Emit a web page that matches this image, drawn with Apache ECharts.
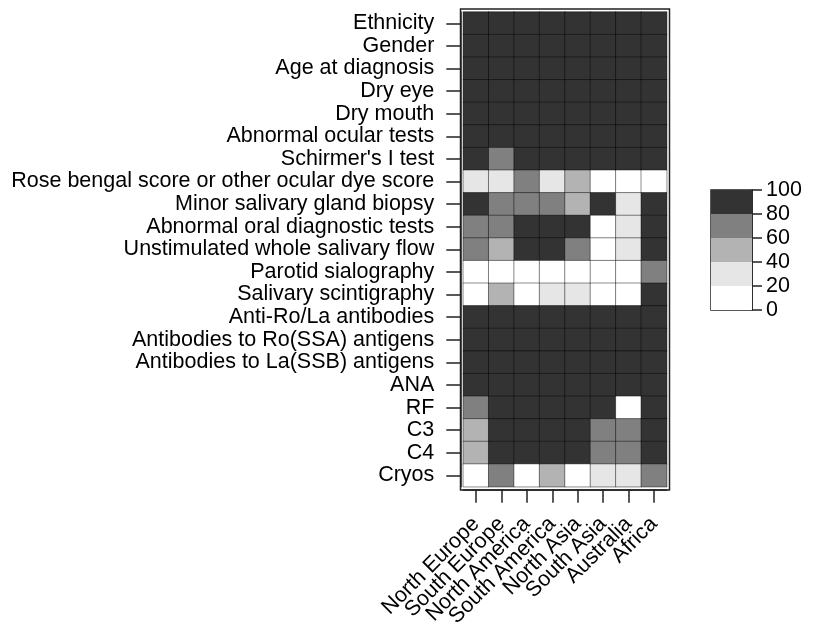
<!DOCTYPE html>
<html>
<head>
<meta charset="utf-8">
<script src="https://cdn.jsdelivr.net/npm/echarts@6/dist/echarts.min.js"></script>
<style>
  html, body { margin: 0; padding: 0; background: #fff; }
  #main { width: 814px; height: 624px; }
</style>
</head>
<body>
<div id="main"></div>
<script>
const regions = ['North Europe', 'South Europe', 'North America', 'South America',
    'North Asia', 'South Asia', 'Australia', 'Africa'];
const variables = ['Ethnicity', 'Gender', 'Age at diagnosis', 'Dry eye', 'Dry mouth',
    'Abnormal ocular tests', "Schirmer's I test", 'Rose bengal score or other ocular dye score',
    'Minor salivary gland biopsy', 'Abnormal oral diagnostic tests', 'Unstimulated whole salivary flow',
    'Parotid sialography', 'Salivary scintigraphy', 'Anti-Ro/La antibodies',
    'Antibodies to Ro(SSA) antigens', 'Antibodies to La(SSB) antigens', 'ANA', 'RF', 'C3', 'C4', 'Cryos'];

// percentage per variable (same order as variables), one array per region
const northEurope  = [90, 90, 90, 90, 90, 90, 90, 30, 90, 70, 70, 10, 10, 90, 90, 90, 90, 70, 50, 50, 10];
const southEurope  = [90, 90, 90, 90, 90, 90, 70, 30, 70, 70, 50, 10, 50, 90, 90, 90, 90, 90, 90, 90, 70];
const northAmerica = [90, 90, 90, 90, 90, 90, 90, 70, 70, 90, 90, 10, 10, 90, 90, 90, 90, 90, 90, 90, 10];
const southAmerica = [90, 90, 90, 90, 90, 90, 90, 30, 70, 90, 90, 10, 30, 90, 90, 90, 90, 90, 90, 90, 50];
const northAsia    = [90, 90, 90, 90, 90, 90, 90, 50, 50, 90, 70, 10, 30, 90, 90, 90, 90, 90, 90, 90, 10];
const southAsia    = [90, 90, 90, 90, 90, 90, 90, 10, 90, 10, 10, 10, 10, 90, 90, 90, 90, 90, 70, 70, 30];
const australia    = [90, 90, 90, 90, 90, 90, 90, 10, 30, 30, 30, 10, 10, 90, 90, 90, 90, 10, 70, 70, 30];
const africa       = [90, 90, 90, 90, 90, 90, 90, 10, 90, 90, 90, 70, 90, 90, 90, 90, 90, 90, 90, 90, 70];

const legendBreaks = [0, 20, 40, 60, 80, 100];
const legendColors = ['#ffffff', '#e6e6e6', '#b3b3b3', '#808080', '#333333'];

const columns = [northEurope, southEurope, northAmerica, southAmerica, northAsia, southAsia, australia, africa];
const cells = [];
columns.forEach((col, x) => {
    col.forEach((v, y) => cells.push([x, y, v]));
});

const font = "'Liberation Sans', Arial, sans-serif";
const lineCol = '#222';
const fs = 21.5;

const pieces = [];
for (let i = 0; i < legendColors.length; i++) {
    pieces.push({ gte: legendBreaks[i], lt: legendBreaks[i + 1], color: legendColors[i] });
}

const legendSeries = legendColors.map((c, i) => ({
    type: 'bar',
    xAxisIndex: 1,
    yAxisIndex: 1,
    stack: 'key',
    barWidth: '100%',
    silent: true,
    itemStyle: { color: c },
    data: [legendBreaks[i + 1] - legendBreaks[i]]
}));

const myChart = echarts.init(document.getElementById('main'));
const option = {
    animation: false,
    textStyle: { fontFamily: font },
    grid: [
        { left: 463.3, top: 12, width: 203.4, height: 474.7, show: false, outerBoundsMode: 'none', containLabel: false },
        { left: 711, top: 190, width: 41, height: 120, show: true, borderColor: lineCol, borderWidth: 1.5, backgroundColor: 'transparent', outerBoundsMode: 'none', containLabel: false },
        { left: 460.5, top: 9, width: 209, height: 481, show: true, borderColor: lineCol, borderWidth: 1.5, backgroundColor: 'transparent', outerBoundsMode: 'none', containLabel: false }
    ],
    visualMap: {
        show: false,
        type: 'piecewise',
        seriesIndex: 0,
        pieces: pieces
    },
    xAxis: [
        {
            type: 'category',
            gridIndex: 0,
            data: regions,
            position: 'bottom',
            offset: 3,
            axisLine: { show: true, lineStyle: { color: lineCol, width: 1.5 } },
            axisTick: { show: true, alignWithLabel: true, length: 13, lineStyle: { color: lineCol, width: 1.5 } },
            axisLabel: { rotate: 45, interval: 0, margin: 31, color: '#000', fontSize: fs, fontFamily: font },
            splitLine: { show: false }
        },
        {
            type: 'category',
            gridIndex: 1,
            data: ['key'],
            show: false
        }
    ],
    yAxis: [
        {
            type: 'category',
            gridIndex: 0,
            data: variables,
            inverse: true,
            offset: 3,
            axisLine: { show: true, lineStyle: { color: lineCol, width: 1.5 } },
            axisTick: { show: true, alignWithLabel: true, length: 14, lineStyle: { color: lineCol, width: 1.5 } },
            axisLabel: { interval: 0, margin: 26, color: '#000', fontSize: fs, fontFamily: font },
            splitLine: { show: false }
        },
        {
            type: 'value',
            gridIndex: 1,
            position: 'right',
            min: 0,
            max: 100,
            interval: 20,
            axisLine: { show: true, lineStyle: { color: lineCol, width: 1.5 } },
            axisTick: { show: true, length: 10, lineStyle: { color: lineCol, width: 1.5 } },
            axisLabel: { margin: 14, color: '#000', fontSize: fs, fontFamily: font },
            splitLine: { show: false }
        }
    ],
    series: [
        {
            type: 'heatmap',
            xAxisIndex: 0,
            yAxisIndex: 0,
            data: cells,
            silent: true,
            itemStyle: { borderColor: 'rgba(0,0,0,0.45)', borderWidth: 1 }
        }
    ].concat(legendSeries)
};
myChart.setOption(option);
</script>
</body>
</html>
